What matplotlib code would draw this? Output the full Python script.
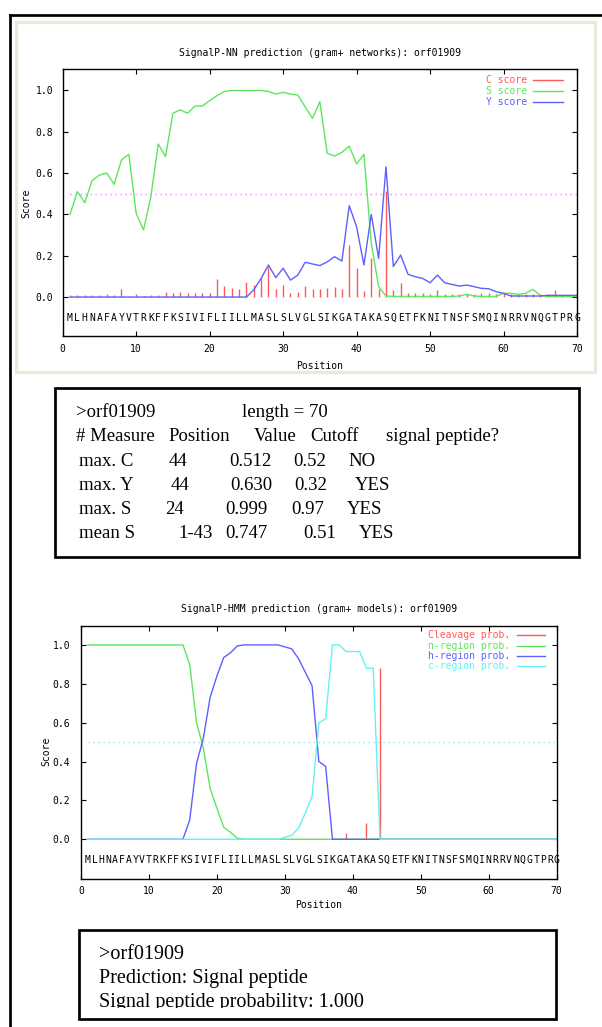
import numpy as np
import matplotlib
matplotlib.use("Agg")
import matplotlib.pyplot as plt
from matplotlib.lines import Line2D
from matplotlib.patches import Rectangle
from matplotlib.transforms import Bbox, TransformedBbox

W, H = 602, 1027

# ---------------- data ----------------
sequence = "MLHNAFAYVTRKFFKSIVIFLIILLMASLSLVGLSIKGATAKASQETFKNITNSFSMQINRRVNQGTPRG"
positions = np.arange(1, len(sequence) + 1)

c_score = [0.010, 0.010, 0.010, 0.010, 0.010, 0.015, 0.010, 0.037, 0.005, 0.013,
           0.005, 0.010, 0.010, 0.026, 0.021, 0.026, 0.020, 0.018, 0.018, 0.020,
           0.087, 0.053, 0.042, 0.037, 0.074, 0.058, 0.090, 0.147, 0.040, 0.058,
           0.020, 0.026, 0.053, 0.040, 0.040, 0.045, 0.050, 0.040, 0.250, 0.140,
           0.030, 0.190, 0.040, 0.512, 0.034, 0.066, 0.018, 0.018, 0.018, 0.013,
           0.034, 0.013, 0.013, 0.013, 0.013, 0.013, 0.018, 0.018, 0.013, 0.018,
           0.013, 0.013, 0.013, 0.013, 0.013, 0.013, 0.034, 0.010, 0.010, 0.018]

s_score = [0.400, 0.510, 0.456, 0.563, 0.590, 0.600, 0.545, 0.663, 0.690, 0.405,
           0.324, 0.485, 0.740, 0.680, 0.889, 0.905, 0.889, 0.924, 0.924, 0.950,
           0.974, 0.994, 0.999, 0.999, 0.999, 0.999, 0.999, 0.994, 0.982, 0.990,
           0.982, 0.977, 0.920, 0.864, 0.945, 0.695, 0.682, 0.700, 0.730, 0.644,
           0.690, 0.260, 0.050, 0.005, 0.003, 0.003, 0.003, 0.003, 0.003, 0.003,
           0.003, 0.003, 0.003, 0.005, 0.013, 0.005, 0.003, 0.003, 0.003, 0.018,
           0.018, 0.013, 0.018, 0.037, 0.008, 0.003, 0.003, 0.003, 0.003, 0.003]

y_score = [0.000, 0.000, 0.000, 0.000, 0.000, 0.000, 0.000, 0.000, 0.000, 0.000,
           0.000, 0.000, 0.000, 0.000, 0.000, 0.000, 0.000, 0.000, 0.000, 0.000,
           0.000, 0.000, 0.000, 0.000, 0.000, 0.034, 0.090, 0.155, 0.094, 0.139,
           0.082, 0.106, 0.168, 0.160, 0.152, 0.170, 0.195, 0.174, 0.442, 0.340,
           0.155, 0.400, 0.187, 0.630, 0.147, 0.203, 0.110, 0.098, 0.090, 0.069,
           0.106, 0.069, 0.061, 0.053, 0.058, 0.050, 0.042, 0.040, 0.026, 0.018,
           0.005, 0.005, 0.005, 0.005, 0.005, 0.008, 0.008, 0.008, 0.008, 0.008]

cleavage_prob = [0.0] * 38 + [0.030, 0.0, 0.0, 0.082, 0.0, 0.880] + [0.0] * 26

n_region = [1.0] * 15 + [0.900, 0.600, 0.470, 0.262, 0.160, 0.062, 0.036, 0.005] + [0.0] * 47

h_region = [0.0] * 15 + [0.100, 0.390, 0.520, 0.730, 0.840, 0.935, 0.960, 0.995,
                         1.0, 1.0, 1.0, 1.0, 1.0, 1.0, 0.990, 0.980, 0.930, 0.860,
                         0.790, 0.400, 0.375] + [0.0] * 34

c_region = [0.0] * 29 + [0.010, 0.020, 0.057, 0.134, 0.220, 0.600, 0.620, 1.0, 1.0,
                         0.966, 0.966, 0.966, 0.880, 0.880] + [0.0] * 27

nn_labels = ["C score", "S score", "Y score"]
hmm_labels = ["Cleavage prob.", "n-region prob.", "h-region prob.", "c-region prob."]
nn_title = "SignalP-NN prediction (gram+ networks): orf01909"
hmm_title = "SignalP-HMM prediction (gram+ models): orf01909"

x_ticks = [0, 10, 20, 30, 40, 50, 60, 70]
y_ticks = [0.0, 0.2, 0.4, 0.6, 0.8, 1.0]

table_rows = [
    [">orf01909", "length = 70"],
    ["# Measure", "Position", "Value", "Cutoff", "signal peptide?"],
    ["max. C", "44", "0.512", "0.52", "NO"],
    ["max. Y", "44", "0.630", "0.32", "YES"],
    ["max. S", "24", "0.999", "0.97", "YES"],
    ["mean S", "1-43", "0.747", "0.51", "YES"],
]
hmm_summary = [">orf01909", "Prediction: Signal peptide", "Signal peptide probability: 1.000"]

# ---------------- layout / style ----------------
MONO = "DejaVu Sans Mono"
SERIF = ["Liberation Serif", "DejaVu Serif"]

red = "#ff5a5a"
green = "#5ee65e"
blue = "#5f5fff"
cyan = "#62f2f2"
pink = "#f08cf0"
beige = "#ece9dc"


def fx(x):
    return x / W


def fy(y):
    return 1 - y / H


fig = plt.figure(figsize=(W / 100, H / 100), dpi=100)
fig.patch.set_facecolor("white")

# outer black frame (left + top)
fig.add_artist(Line2D([fx(9.7), fx(9.7)], [fy(15), fy(1040)], color="black", lw=1.95))
fig.add_artist(Line2D([fx(9.7), fx(610)], [fy(15), fy(15)], color="black", lw=1.95))

# beige frame around NN chart
fig.add_artist(Rectangle((fx(16), fy(371.7)), fx(594.7) - fx(16), fy(22) - fy(371.7),
                         transform=fig.transFigure, fill=False, edgecolor=beige, lw=2.3))


def style_axes(ax, ylim, xpad, ypad):
    ax.set_xlim(0, 70)
    ax.set_ylim(*ylim)
    ax.set_xticks(x_ticks)
    ax.set_yticks(y_ticks)
    ax.set_xticklabels([str(t) for t in x_ticks])
    ax.set_yticklabels(["%.1f" % t for t in y_ticks])
    ax.tick_params(direction="in", length=3.6, width=0.8, top=True, right=True,
                   labelsize=7, colors="black")
    ax.tick_params(axis="x", pad=xpad)
    ax.tick_params(axis="y", pad=ypad)
    for lab in ax.get_xticklabels() + ax.get_yticklabels():
        lab.set_family(MONO)
    for sp in ax.spines.values():
        sp.set_linewidth(1.0)
        sp.set_color("black")


# ---------------- NN chart ----------------
ax1 = fig.add_axes([fx(62.7), fy(335.7), fx(577) - fx(62.7), fy(69) - fy(335.7)])
style_axes(ax1, (-0.187, 1.103), 6.3, 6.8)
ax1.hlines(0.5, 1, 70, colors=pink, lw=1.0, linestyles=(0, (1.0, 2.6)))
ax1.vlines(positions, 0, c_score, colors=red, lw=1.0)
ax1.plot(positions, s_score, color=green, lw=1.0)
ax1.plot(positions, y_score, color=blue, lw=1.0)
for p, aa in zip(positions, sequence):
    ax1.text(p, -0.1, aa, ha="center", va="center", fontsize=7, family=MONO)

fig.text(fx(320), fy(53), nn_title, ha="center", va="center", fontsize=7, family=MONO)
fig.text(fx(320), fy(366), "Position", ha="center", va="center", fontsize=7, family=MONO)
fig.text(fx(26), fy(203.3), "Score", ha="center", va="center", fontsize=7, family=MONO,
         rotation=90)

for lab, col, yy in zip(nn_labels, [red, green, blue], [80, 90.7, 101.7]):
    fig.text(fx(526.7), fy(yy), lab, ha="right", va="center", fontsize=7, family=MONO, color=col)
    fig.add_artist(Line2D([fx(533), fx(563)], [fy(yy), fy(yy)], color=col, lw=1.0))

# ---------------- NN table box ----------------
fig.add_artist(Rectangle((fx(55.3), fy(557)), fx(578.7) - fx(55.3), fy(388) - fy(557),
                         transform=fig.transFigure, fill=False, edgecolor="black", lw=1.95))
row_x = [
    [76, 241.7],
    [76, 168.3, 253.3, 310, 386],
    [79.3, 168.3, 229.3, 293, 348.3],
    [79.3, 170.7, 230, 294, 355],
    [79.3, 165, 225, 291.5, 346.7],
    [79.3, 178.3, 225, 303, 359.3],
]
row_base = [417.3, 441, 465.7, 490, 514.3, 538.3]
for cells, xs, yb in zip(table_rows, row_x, row_base):
    for txt, xx in zip(cells, xs):
        fig.text(fx(xx), fy(yb), txt, ha="left", va="baseline", fontsize=13.5, family=SERIF)

# ---------------- HMM chart ----------------
ax2 = fig.add_axes([fx(81), fy(879.3), fx(556.7) - fx(81), fy(625.7) - fy(879.3)])
style_axes(ax2, (-0.206, 1.099), 4.5, 7.9)
ax2.hlines(0.5, 1, 70, colors="#8ae6f6", lw=1.0, linestyles=(0, (1.0, 2.6)))
ax2.vlines(positions, 0, cleavage_prob, colors=red, lw=1.0)
ax2.plot(positions, n_region, color=green, lw=1.0)
ax2.plot(positions, h_region, color=blue, lw=1.0)
ax2.plot(positions, c_region, color=cyan, lw=1.0)
for p, aa in zip(positions, sequence):
    ax2.text(p, -0.107, aa, ha="center", va="center", fontsize=7, family=MONO)

fig.text(fx(318.9), fy(609), hmm_title, ha="center", va="center", fontsize=7, family=MONO)
fig.text(fx(318.9), fy(905), "Position", ha="center", va="center", fontsize=7, family=MONO)
fig.text(fx(46.7), fy(751.7), "Score", ha="center", va="center", fontsize=7, family=MONO,
         rotation=90)

for lab, col, yy in zip(hmm_labels, [red, green, blue, cyan], [635, 645.7, 656, 666]):
    fig.text(fx(510), fy(yy), lab, ha="right", va="center", fontsize=7, family=MONO, color=col)
    fig.add_artist(Line2D([fx(517.3), fx(545)], [fy(yy), fy(yy)], color=col, lw=1.0))

# ---------------- HMM summary box ----------------
fig.add_artist(Rectangle((fx(78.7), fy(1018.7)), fx(556.2) - fx(78.7), fy(929.5) - fy(1018.7),
                         transform=fig.transFigure, fill=False, edgecolor="black", lw=1.95))
clip = TransformedBbox(Bbox([[0, fy(1008.3)], [1, 1]]), fig.transFigure)
for txt, yb in zip(hmm_summary, [959.3, 982.7, 1006.7]):
    t = fig.text(fx(99.3), fy(yb), txt, ha="left", va="baseline", fontsize=14.5, family=SERIF)
    t.set_clip_box(clip)
    t.set_clip_on(True)

fig.savefig("out.png", dpi=100)
